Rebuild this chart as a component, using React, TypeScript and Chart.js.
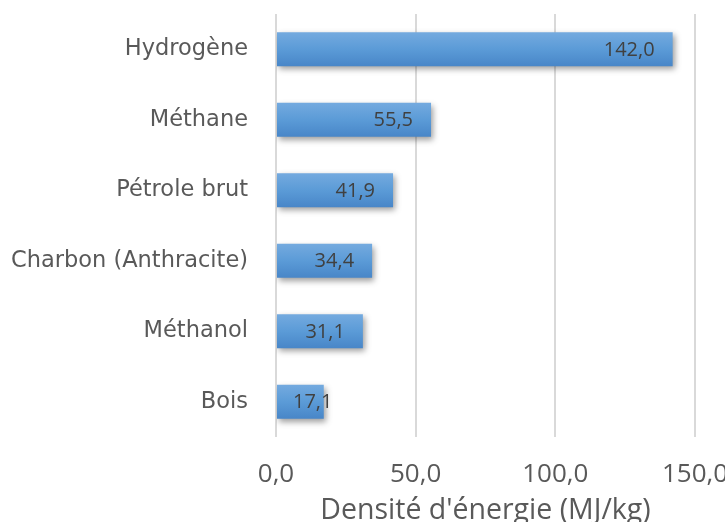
import React, { useEffect, useRef } from "react";
import { Chart, registerables } from "chart.js";

Chart.register(...registerables);

const categories = ["Hydrogène", "Méthane", "Pétrole brut", "Charbon (Anthracite)", "Méthanol", "Bois"];
const values = [142.0, 55.5, 41.9, 34.4, 31.1, 17.1];
const axisTitle = "Densité d'énergie (MJ/kg)";
const xMin = 0;
const xMax = 150;
const xStep = 50;

const fmt = (v: number) => v.toFixed(1).replace(".", ",");

const NUM_FONT = "'Open Sans', 'Liberation Sans', sans-serif";
const CAT_FONT = "'DejaVu Sans', sans-serif";

const shadowPlugin = {
  id: "barShadow",
  beforeDatasetsDraw(chart: any) {
    const ctx = chart.ctx;
    ctx.save();
    ctx.shadowColor = "rgba(0,0,0,0.38)";
    ctx.shadowBlur = 6;
    ctx.shadowOffsetX = 2;
    ctx.shadowOffsetY = 3;
  },
  afterDatasetsDraw(chart: any) {
    chart.ctx.restore();
  },
};

const labelPlugin = {
  id: "barLabels",
  afterDraw(chart: any) {
    const ctx = chart.ctx;
    const meta = chart.getDatasetMeta(0);
    ctx.save();
    ctx.font = `20px ${NUM_FONT}`;
    ctx.fillStyle = "#404040";
    ctx.textBaseline = "middle";
    ctx.textAlign = "left";
    meta.data.forEach((bar: any, i: number) => {
      const text = fmt(values[i]);
      const w = ctx.measureText(text).width;
      const x = Math.max(bar.base + 16, bar.x - 18 - w);
      ctx.fillText(text, x, bar.y + 1);
    });
    ctx.restore();
  },
};

export default function App() {
  const ref = useRef<HTMLCanvasElement | null>(null);

  useEffect(() => {
    if (!ref.current) return;
    const chart = new Chart(ref.current, {
      type: "bar",
      data: {
        labels: categories,
        datasets: [
          {
            data: values,
            borderWidth: 0,
            barPercentage: 0.48,
            categoryPercentage: 1,
            backgroundColor: (c: any) => {
              const ch = c.chart;
              const ys = ch.scales?.y;
              if (!ys || c.dataIndex === undefined) return "#5b9bd5";
              const center = ys.getPixelForValue(c.dataIndex);
              const band = Math.abs(ys.getPixelForValue(1) - ys.getPixelForValue(0));
              const half = (band * 0.48) / 2;
              if (!isFinite(center) || !isFinite(half) || half <= 0) return "#5b9bd5";
              const g = ch.ctx.createLinearGradient(0, center - half, 0, center + half);
              g.addColorStop(0, "#74aadf");
              g.addColorStop(0.5, "#5b9bd7");
              g.addColorStop(1, "#4886c8");
              return g;
            },
          },
        ],
      },
      options: {
        indexAxis: "y",
        animation: false,
        responsive: true,
        maintainAspectRatio: false,
        layout: { padding: { top: 14, right: 65, left: 0, bottom: 0 } },
        plugins: { legend: { display: false }, tooltip: { enabled: false } },
        scales: {
          x: {
            min: xMin,
            max: xMax,
            ticks: {
              stepSize: xStep,
              padding: 22,
              color: "#595959",
              font: { family: NUM_FONT, size: 26 },
              callback: (v: any) => fmt(Number(v)),
            },
            grid: { color: "#d9d9d9", lineWidth: 2, drawTicks: false },
            border: { display: false },
            title: {
              display: true,
              text: axisTitle,
              color: "#595959",
              font: { family: NUM_FONT, size: 28.5, lineHeight: 1.2 },
              padding: { top: 0, bottom: 2 },
            },
            afterFit: (s: any) => {
              s.height = 93;
            },
          },
          y: {
            ticks: {
              padding: 28,
              color: "#595959",
              font: { family: CAT_FONT, size: 22.5 },
            },
            grid: { display: false, drawTicks: false },
            border: { display: false },
            afterFit: (s: any) => {
              s.width = 276;
              s.paddingTop = 0;
              s.paddingBottom = 0;
            },
          },
        },
      },
      plugins: [shadowPlugin, labelPlugin],
    });
    return () => chart.destroy();
  }, []);

  return (
    <div style={{ position: "fixed", left: 0, top: 0, width: 760, height: 530, background: "#fff" }}>
      <canvas ref={ref} />
    </div>
  );
}
